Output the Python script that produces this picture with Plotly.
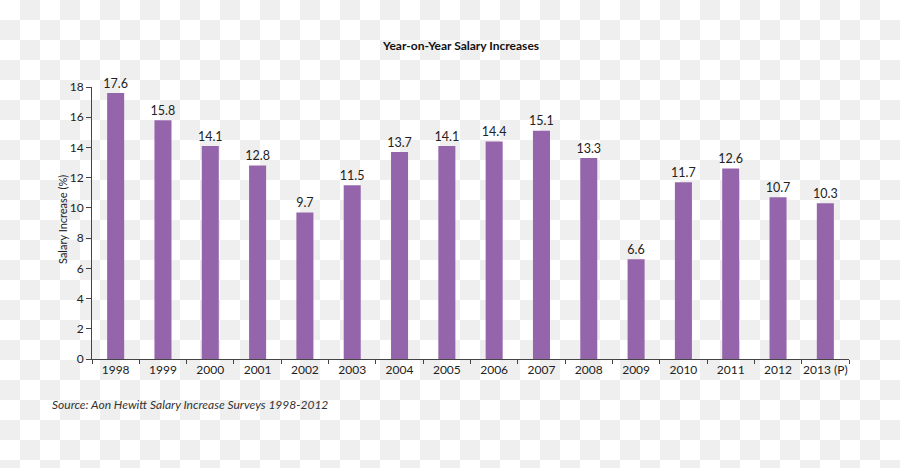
import base64
import plotly.graph_objects as go

years = ["1998", "1999", "2000", "2001", "2002", "2003", "2004", "2005",
         "2006", "2007", "2008", "2009", "2010", "2011", "2012", "2013 (P)"]
increase = [17.6, 15.8, 14.1, 12.8, 9.7, 11.5, 13.7, 14.1,
            14.4, 15.1, 13.3, 6.6, 11.7, 12.6, 10.7, 10.3]
y_ticks = [0, 2, 4, 6, 8, 10, 12, 14, 16, 18]

W, H = 900, 468
L, R, T, B = 92, 51, 87, 109
pw, ph = W - L - R, H - T - B

font = "Lato"

fig = go.Figure()
fig.add_trace(go.Bar(
    x=years, y=increase,
    marker=dict(color="#9565ab", line=dict(width=0)),
    hoverinfo="x+y",
))
fig.add_trace(go.Scatter(
    x=years, y=increase, mode="markers+text",
    marker=dict(size=2, opacity=0),
    text=[f"{v:.1f}" for v in increase],
    textposition="top center",
    textfont=dict(family=font, size=12.5, color="#222"),
    cliponaxis=False, hoverinfo="skip",
))

fig.update_layout(
    width=W, height=H,
    margin=dict(l=L, r=R, t=T, b=B),
    paper_bgcolor="rgba(0,0,0,0)",
    plot_bgcolor="rgba(0,0,0,0)",
    bargap=0.64,
    showlegend=False,
    annotations=[
        dict(text="<b>Year-on-Year Salary Increases</b>", xref="paper", yref="paper",
             x=(460 - L) / pw, y=1 + (T - 45) / ph, showarrow=False,
             font=dict(family=font, size=12, color="#111"), xanchor="center", yanchor="middle"),
        dict(text="Salary Increase (%)", xref="paper", yref="paper",
             x=(62 - L) / pw, y=(T + ph - 220) / ph, showarrow=False,
             textangle=-90, font=dict(family=font, size=11, color="#222"),
             xanchor="center", yanchor="middle"),
        dict(text="<i>Source: Aon Hewitt Salary Increase Surveys 1998-2012</i>", xref="paper", yref="paper",
             x=(50 - L) / pw, y=-(404 - T - ph) / ph, showarrow=False,
             font=dict(family=font, size=12, color="#333"), xanchor="left", yanchor="middle"),
    ],
    xaxis=dict(
        range=[-0.5, len(years) - 0.5],
        showline=True, linecolor="#444", linewidth=1,
        ticks="outside", ticklen=4, tickcolor="#444", tickson="boundaries",
        tickangle=0,
        tickfont=dict(family=font, size=12, color="#222"),
        showgrid=False,
    ),
    yaxis=dict(
        range=[0, 18], tickvals=y_ticks,
        showline=True, linecolor="#444", linewidth=1,
        ticks="outside", ticklen=5, tickcolor="#444",
        tickfont=dict(family=font, size=12, color="#222"),
        showgrid=False, zeroline=False,
    ),
)

tile = ("<svg xmlns='http://www.w3.org/2000/svg' width='40' height='40'>"
        "<rect width='40' height='40' fill='#ffffff'/>"
        "<rect x='20' y='0' width='20' height='20' fill='#efefef'/>"
        "<rect x='0' y='20' width='20' height='20' fill='#efefef'/></svg>")
tile_uri = "data:image/svg+xml;base64," + base64.b64encode(tile.encode()).decode()

checker_js = (
    "var bgcss = 'url(\"" + tile_uri + "\") 0 0 / 40px 40px repeat';"
    "document.documentElement.style.background = bgcss;"
    "document.body.style.margin = '0';"
    "document.body.style.background = bgcss;"
    "var gd = document.getElementById('{plot_id}');"
    "gd.style.background = bgcss;"
    "gd.querySelectorAll('.main-svg').forEach(function(s){ s.style.background = 'transparent'; });"
)

fig.write_html("out.html", post_script=checker_js, config={"displayModeBar": False})
